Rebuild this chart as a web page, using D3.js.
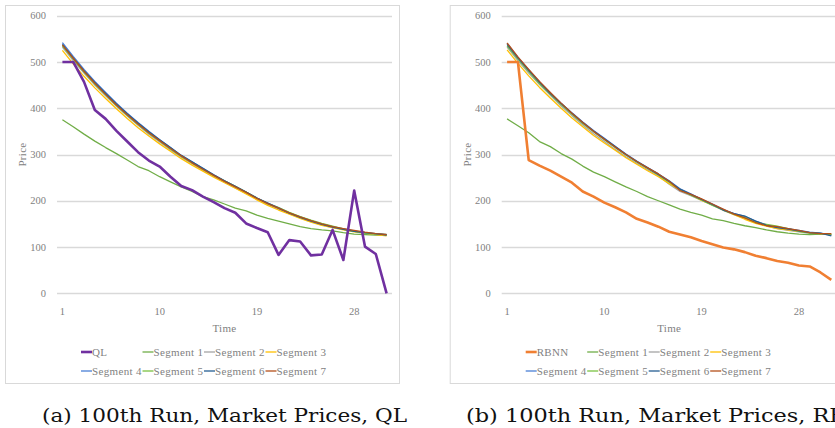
<!DOCTYPE html>
<html>
<head>
<meta charset="utf-8">
<script src="https://cdn.jsdelivr.net/npm/d3@7"></script>
<style>
  html, body { margin: 0; padding: 0; background: #fff; }
  svg { display: block; }
  text { font-family: "Liberation Serif", "DejaVu Serif", serif; }
  text.caption { font-family: "DejaVu Serif", "Liberation Serif", serif; }
</style>
</head>
<body>
<svg id="chart" width="835" height="428"></svg>
<script>
'use strict';

// time steps 1..31
var times = d3.range(1, 32);
var xTickLabels = [1, 10, 19, 28];
var yTicks = [0, 100, 200, 300, 400, 500, 600];
var segNames = ['Segment 1', 'Segment 2', 'Segment 3', 'Segment 4', 'Segment 5', 'Segment 6', 'Segment 7'];
var segColors = ['#70AD47', '#A5A5A5', '#FFC000', '#4A7FD6', '#7AC142', '#255E91', '#B4501A'];

// (a) QL run
var qlPrices = [500, 500, 457, 396, 377, 351, 328, 305, 287, 274, 252, 232, 223, 209, 197, 184, 174, 151, 141, 132, 83, 115, 112, 82, 84, 137, 72, 222, 101, 85, 0];
var qlSeg1 = [375, 360, 344, 329, 315, 302, 288, 274, 265, 252, 241, 230, 220, 209, 202, 193, 184, 178, 169, 162, 156, 150, 144, 140, 137, 135, 131, 128, 127, 126, 125];
var qlSeg2 = [532, 503, 476, 450, 427, 404, 383, 363, 344, 327, 310, 294, 280, 266, 253, 240, 228, 216, 204, 192, 182, 172, 163, 155, 148, 142, 138, 134, 131, 129, 128];
var qlSeg3 = [525, 496, 469, 444, 421, 399, 378, 358, 340, 323, 307, 291, 277, 264, 251, 239, 227, 215, 202, 190, 180, 171, 162, 154, 147, 142, 137, 133, 130, 127, 124];
var qlSeg4 = [542, 512, 484, 458, 434, 411, 389, 369, 350, 332, 315, 298, 284, 270, 256, 243, 231, 219, 206, 195, 185, 174, 165, 157, 150, 144, 139, 135, 131, 128, 127];
var qlSeg5 = [535, 506, 478, 452, 429, 406, 385, 365, 346, 329, 312, 296, 282, 268, 255, 243, 231, 219, 206, 194, 185, 175, 166, 158, 151, 145, 139, 134, 130, 128, 127];
var qlSeg6 = [538, 509, 481, 456, 432, 409, 388, 368, 349, 332, 315, 298, 284, 270, 256, 243, 231, 219, 206, 195, 184, 173, 164, 156, 149, 143, 138, 134, 131, 129, 126];
var qlSeg7 = [537, 508, 480, 454, 430, 407, 386, 366, 347, 330, 313, 297, 282, 268, 255, 242, 230, 218, 205, 194, 184, 174, 165, 157, 150, 144, 140, 136, 132, 129, 127];

// (b) RBNN run
var rbnnPrices = [500, 500, 288, 276, 265, 252, 239, 220, 209, 196, 186, 175, 161, 153, 144, 133, 127, 121, 113, 106, 99, 95, 89, 81, 76, 70, 66, 60, 58, 45, 29];
var rbSeg1 = [377, 362, 347, 328, 317, 302, 290, 275, 262, 252, 241, 230, 220, 209, 200, 191, 182, 175, 169, 161, 157, 151, 146, 142, 137, 133, 130, 128, 127, 128, 127];
var rbSeg2 = [532, 503, 476, 451, 428, 405, 384, 364, 345, 328, 311, 295, 281, 267, 254, 236, 220, 211, 201, 191, 179, 170, 162, 153, 146, 140, 136, 133, 130, 129, 128];
var rbSeg3 = [526, 497, 470, 445, 422, 400, 379, 360, 341, 325, 309, 293, 279, 265, 252, 237, 224, 213, 201, 191, 180, 170, 160, 151, 145, 140, 137, 134, 131, 129, 128];
var rbSeg4 = [540, 510, 483, 457, 433, 411, 390, 370, 352, 335, 318, 301, 286, 272, 258, 243, 226, 215, 203, 193, 181, 172, 166, 156, 148, 143, 140, 136, 132, 130, 126];
var rbSeg5 = [535, 506, 479, 453, 430, 408, 387, 367, 349, 332, 315, 299, 284, 270, 256, 240, 224, 212, 202, 190, 180, 171, 164, 153, 149, 145, 140, 134, 130, 129, 127];
var rbSeg6 = [538, 509, 482, 456, 432, 410, 389, 369, 351, 334, 317, 300, 285, 271, 257, 242, 225, 214, 203, 192, 180, 172, 167, 156, 147, 142, 139, 135, 131, 130, 124];
var rbSeg7 = [541, 511, 484, 458, 434, 411, 389, 369, 350, 333, 316, 300, 285, 271, 258, 242, 222, 214, 204, 193, 182, 171, 163, 153, 146, 144, 140, 136, 131, 129, 129];

var svg = d3.select('#chart');

function drawPanel(opts) {
	var g = svg.append('g');
	var plotLeft = opts.left + 52, plotRight = plotLeft + 335;
	var plotTop = 15.7, plotBottom = 293.3;

	// panel frame
	g.append('rect')
		.attr('x', opts.left + 0.5).attr('y', 5.5)
		.attr('width', 394).attr('height', 378)
		.attr('fill', '#fff').attr('stroke', '#d9d9d9').attr('stroke-width', 1);

	var xScale = d3.scaleBand().domain(times).range([plotLeft, plotRight]).padding(0);
	var xPos = function(t) { return xScale(t) + xScale.bandwidth() / 2; };
	var yScale = d3.scaleLinear().domain([0, 600]).range([plotBottom, plotTop]);

	// gridlines
	g.selectAll('.grid').data(yTicks).enter().append('line')
		.attr('x1', plotLeft).attr('x2', plotRight)
		.attr('y1', function(d) { return Math.round(yScale(d)) + 0.5; })
		.attr('y2', function(d) { return Math.round(yScale(d)) + 0.5; })
		.attr('stroke', '#d9d9d9').attr('stroke-width', 1.3);

	// y tick labels
	g.selectAll('.ylab').data(yTicks).enter().append('text')
		.attr('x', plotLeft - 11)
		.attr('y', function(d) { return yScale(d); })
		.attr('dy', '0.35em')
		.attr('text-anchor', 'end')
		.attr('font-size', 10.5).attr('fill', '#7f7f7f')
		.text(function(d) { return d; });

	// x tick labels
	g.selectAll('.xlab').data(xTickLabels).enter().append('text')
		.attr('x', xPos)
		.attr('y', 311)
		.attr('dy', '0.35em')
		.attr('text-anchor', 'middle')
		.attr('font-size', 10.5).attr('fill', '#7f7f7f')
		.text(function(d) { return d; });

	// axis titles
	g.append('text')
		.attr('x', (plotLeft + plotRight) / 2).attr('y', 328).attr('dy', '0.35em')
		.attr('text-anchor', 'middle').attr('font-size', 11).attr('fill', '#7f7f7f')
		.attr('letter-spacing', 0.3)
		.text('Time');
	g.append('text')
		.attr('transform', 'translate(' + (plotLeft - 35) + ',' + ((plotTop + plotBottom) / 2) + ') rotate(-90)')
		.attr('dy', '0.35em')
		.attr('text-anchor', 'middle').attr('font-size', 11).attr('fill', '#7f7f7f')
		.attr('letter-spacing', 0.3)
		.text('Price');

	var line = d3.line()
		.x(function(d, i) { return xPos(times[i]); })
		.y(function(d) { return yScale(d); });

	// segment lines, then the main series on top
	opts.segments.forEach(function(vals, k) {
		g.append('path').datum(vals)
			.attr('d', line).attr('fill', 'none')
			.attr('stroke', segColors[k]).attr('stroke-width', 1.3)
			.attr('stroke-linejoin', 'round');
	});
	g.append('path').datum(opts.main)
		.attr('d', line).attr('fill', 'none')
		.attr('stroke', opts.mainColor).attr('stroke-width', 2.6)
		.attr('stroke-linejoin', 'round');

	// legend
	var entries = [{ name: opts.mainName, color: opts.mainColor, w: 2.6 }]
		.concat(segNames.map(function(n, k) { return { name: n, color: segColors[k], w: 1.3 }; }));
	entries.forEach(function(e, k) {
		var row = k < 4 ? 0 : 1, col = k % 4;
		var lx = plotLeft + 24 + col * 61.5, ly = row === 0 ? 352 : 371;
		g.append('line')
			.attr('x1', lx).attr('x2', lx + 11)
			.attr('y1', ly).attr('y2', ly)
			.attr('stroke', e.color).attr('stroke-width', e.w);
		g.append('text')
			.attr('x', lx + 11).attr('y', ly).attr('dy', '0.35em')
			.attr('font-size', 11).attr('fill', '#7f7f7f')
			.attr('letter-spacing', 0.35)
			.text(e.name);
	});
}

drawPanel({
	left: 5, main: qlPrices, mainName: 'QL', mainColor: '#7030A0',
	segments: [qlSeg1, qlSeg2, qlSeg3, qlSeg4, qlSeg5, qlSeg6, qlSeg7]
});
drawPanel({
	left: 449.7, main: rbnnPrices, mainName: 'RBNN', mainColor: '#F07F32',
	segments: [rbSeg1, rbSeg2, rbSeg3, rbSeg4, rbSeg5, rbSeg6, rbSeg7]
});

// captions (the right one runs past the page edge, as in the original figure)
svg.append('text').attr('class', 'caption').attr('x', 42).attr('y', 421.5)
	.attr('font-size', 19).attr('fill', '#111')
	.attr('textLength', 365).attr('lengthAdjust', 'spacingAndGlyphs')
	.text('(a) 100th Run, Market Prices, QL');
svg.append('text').attr('class', 'caption').attr('x', 466).attr('y', 421.5)
	.attr('font-size', 19).attr('fill', '#111')
	.attr('textLength', 419).attr('lengthAdjust', 'spacingAndGlyphs')
	.text('(b) 100th Run, Market Prices, RBNN');
</script>
</body>
</html>
